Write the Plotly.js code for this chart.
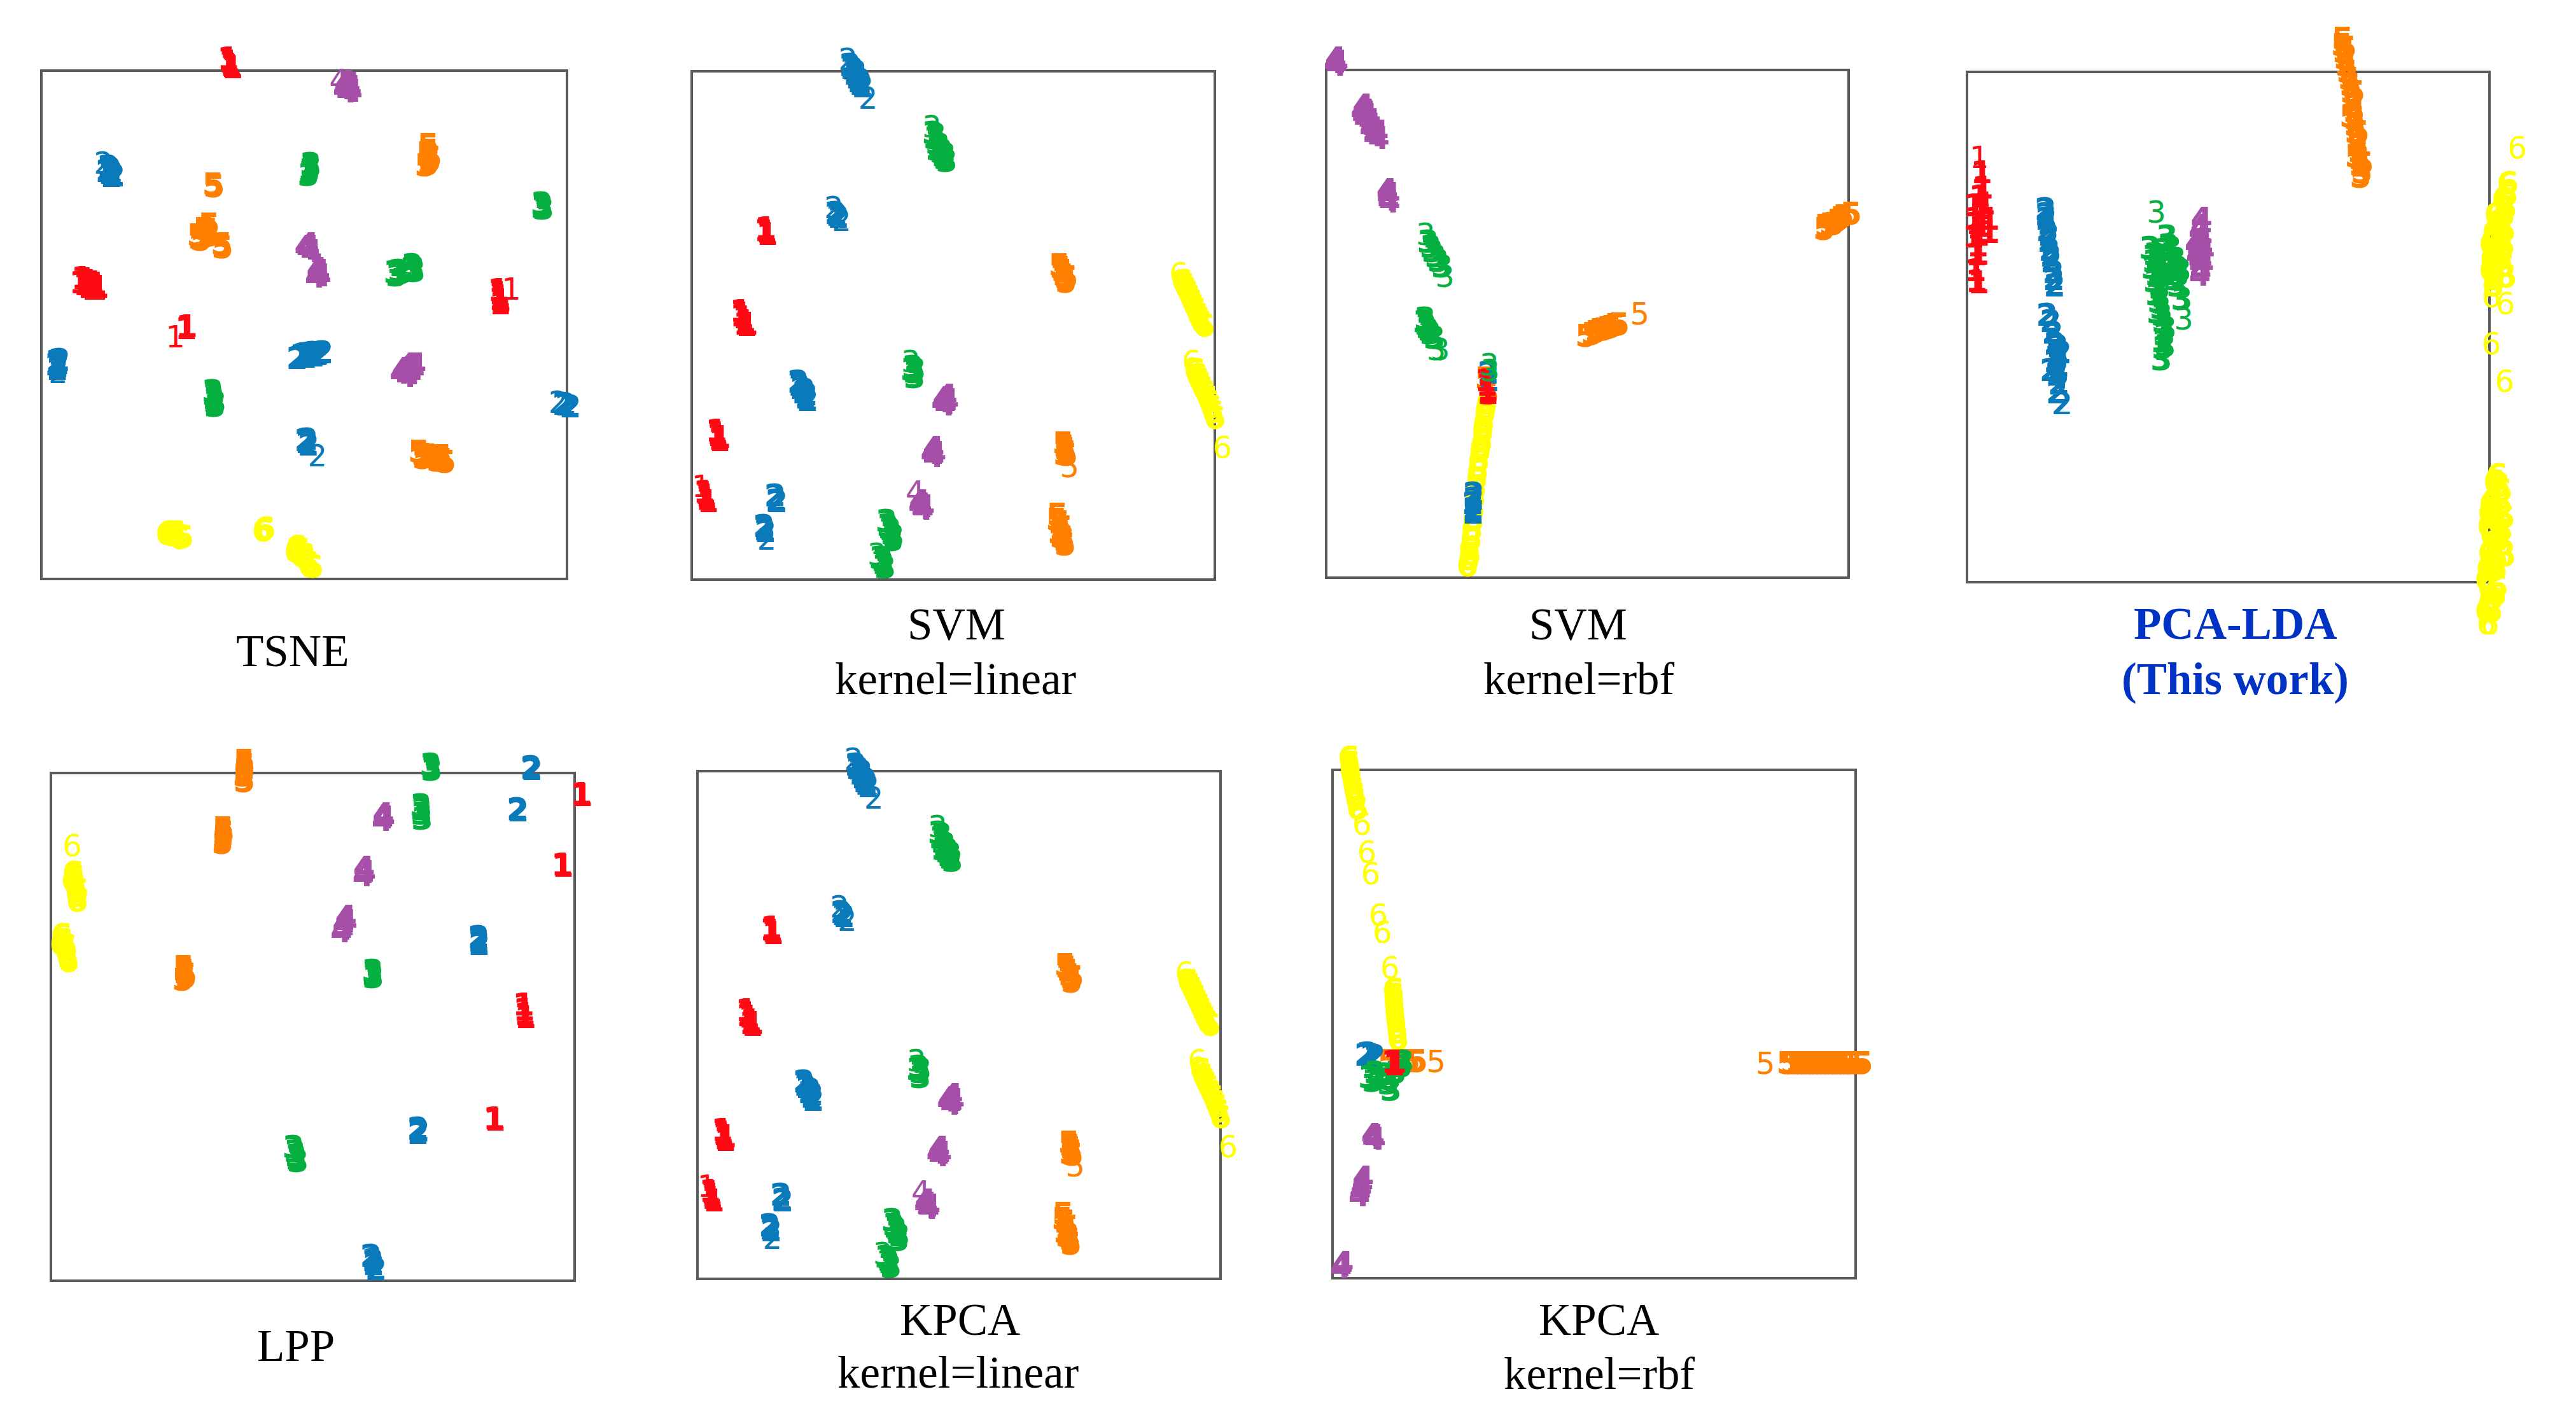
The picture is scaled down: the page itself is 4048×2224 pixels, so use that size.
<!DOCTYPE html>
<html><head><meta charset="utf-8">
<script src="https://cdn.plot.ly/plotly-3.0.1.min.js"></script>
<style>html,body{margin:0;padding:0;background:#fff}#c{width:4048px;height:2224px}</style>
</head><body><div id="c"></div>
<script>
const classLabels = ["1","2","3","4","5","6"];
const classColors = ["#FF0A14","#0A7ABA","#06B040","#A64FA8","#FF8000","#FFFF00"];

// t-SNE
const tsne1 = [[460,1168],[463,1160],[466,1153],[468,1150],[470,1148],[95,665],[100,675],[110,672],[118,668],[128,665],[135,662],[140,655],[105,660],[115,655],[125,650],[135,650],[112,665],[122,660],[1126,648],[1128,640],[1130,633],[1131,625],[1130,618],[1128,628],[358,566],[356,562]];
const tsne2 = [[170,920],[173,903],[168,910],[175,912],[172,918],[165,925],[160,915],[180,905],[38,488],[43,483],[41,478],[36,480],[45,490],[40,470],[630,495],[648,503],[660,500],[668,506],[680,504],[693,508],[653,498],[683,505],[640,500],[672,500],[1285,392],[1292,390],[1303,386],[653,306],[658,300],[650,310],[655,312]];
const tsne3 = [[663,930],[661,918],[658,906],[664,924],[660,912],[1235,838],[1233,833],[1237,830],[1232,842],[880,690],[870,688],[883,685],[875,680],[888,686],[913,703],[918,698],[910,695],[920,690],[423,413],[426,398],[428,388],[425,405],[430,395],[422,420]];
const tsne4 = [[748,1108],[756,1098],[763,1103],[753,1093],[745,1100],[760,1110],[750,1115],[765,1095],[660,745],[655,740],[665,735],[650,745],[658,750],[683,686],[678,680],[676,678],[685,690],[680,695],[688,680],[898,473],[913,478],[908,468],[898,463],[905,480],[890,470],[918,470],[900,455],[910,460],[885,462],[922,480]];
const tsne5 = [[423,884],[425,881],[953,973],[953,960],[953,948],[955,940],[953,930],[946,928],[958,938],[950,955],[960,945],[413,795],[400,785],[388,763],[403,768],[410,783],[393,760],[385,770],[415,770],[446,743],[444,750],[938,278],[950,276],[958,273],[970,270],[983,268],[988,266],[948,276],[975,265],[940,270],[985,275],[930,285],[995,262]];
const tsne6 = [[308,100],[318,98],[323,98],[335,95],[343,93],[348,94],[312,103],[330,103],[340,90],[548,110],[546,108],[550,112],[628,70],[633,58],[640,50],[650,43],[658,35],[668,26],[625,60],[636,65],[648,52],[660,28]];
const tsneStray = [[1,1158,650],[1,330,543],[2,153,933],[2,41,462],[2,1273,396],[2,680,276],[4,733,1118]];

// SVM kernel=linear and KPCA kernel=linear
const linear1 = [[192,913],[194,905],[196,898],[190,908],[127,698],[130,690],[134,681],[139,671],[142,661],[128,685],[136,665],[145,665],[64,387],[67,375],[70,365],[72,361],[66,380],[74,370],[32,228],[37,218],[42,203],[38,210],[35,225]];
const linear2 = [[412,1338],[420,1328],[424,1315],[430,1305],[434,1295],[439,1288],[445,1281],[415,1330],[428,1320],[437,1300],[442,1292],[374,953],[382,943],[378,948],[277,513],[284,498],[290,485],[297,473],[302,465],[280,505],[294,492],[300,480],[217,218],[220,205],[222,203],[188,138],[192,125],[190,130]];
const linear3 = [[628,1161],[632,1148],[637,1135],[642,1123],[648,1111],[654,1101],[664,1088],[658,1095],[635,1155],[645,1130],[652,1115],[660,1105],[638,1118],[575,551],[579,538],[580,525],[572,545],[582,545],[507,151],[514,133],[520,118],[524,101],[510,140],[518,128],[526,112],[497,48],[504,31],[500,40],[490,55]];
const linear4 = [[664,478],[657,465],[660,455],[652,463],[662,457],[668,465],[655,470],[630,341],[624,328],[630,320],[628,335],[635,328],[594,203],[600,185],[602,183],[598,195],[605,190],[592,195]];
const linear5 = [[957,816],[964,801],[972,783],[974,773],[960,810],[968,790],[978,785],[967,353],[972,338],[977,323],[970,345],[975,330],[969,325],[952,168],[957,148],[960,128],[967,108],[972,90],[950,155],[965,135],[955,120],[970,100],[960,110]];
const linear6 = [[1277,775],[1287,755],[1297,733],[1307,711],[1317,688],[1327,668],[1334,660],[1282,765],[1292,745],[1302,722],[1312,700],[1322,678],[1310,543],[1320,518],[1330,498],[1342,473],[1352,448],[1362,420],[1315,530],[1325,508],[1336,485],[1347,460],[1357,435]];
const linearStray = [[1,25,241],[2,407,1351],[2,459,1251],[2,370,967],[2,390,933],[2,195,105],[3,625,1176],[3,570,566],[3,482,65],[4,582,226],[5,984,293],[6,1269,795],[6,1302,566],[6,1382,343]];

// SVM kernel=rbf
const svmRbf1 = [[415,513],[420,488],[420,480],[418,500]];
const svmRbf2 = [[422,533],[424,513],[384,218],[382,193],[383,178],[383,168],[384,205]];
const svmRbf3 = [[265,873],[272,860],[277,848],[285,835],[292,823],[302,808],[257,673],[259,658],[267,643],[282,623],[262,650],[254,665],[272,635]];
const svmRbf4 = [[25,1350],[27,1333],[22,1340],[30,1342],[97,1228],[102,1215],[107,1203],[112,1190],[117,1178],[123,1168],[129,1158],[137,1143],[105,1195],[115,1170],[92,1215],[105,1210],[95,1205],[115,1190],[125,1150],[135,1160],[100,1195],[159,1008],[162,983],[165,978],[160,995],[165,998]];
const svmRbf5 = [[677,628],[692,633],[712,643],[732,648],[752,656],[762,658],[702,638],[722,645],[742,652],[1297,906],[1312,918],[1332,928],[1347,940],[1367,946],[1322,920],[1340,934],[1300,915],[415,518],[422,478]];
const svmRbf6 = [[417,453],[413,428],[410,403],[407,378],[405,353],[400,328],[397,303],[394,278],[392,258],[389,233],[387,208],[385,178],[382,148],[379,123],[377,98],[373,73],[371,48],[368,30],[415,440],[408,390],[402,340],[375,60]];
const svmRbfStray = [[3,259,893],[3,309,783],[3,297,593],[3,287,593],[3,425,553],[3,427,538],[5,817,686]];

// PCA-LDA
const lda1 = [[34,920],[37,885],[17,845],[42,850],[52,815],[17,815],[52,785],[15,775],[22,735],[27,737],[20,700],[22,675],[27,673],[22,805],[32,840],[30,865],[28,780],[25,755],[35,800]];
const lda2 = [[185,837],[187,815],[189,790],[192,765],[195,745],[199,720],[204,695],[207,665],[189,600],[197,585],[202,560],[207,535],[212,515],[207,495],[217,485],[212,465],[217,445],[212,425],[222,515],[197,475],[186,825],[193,780],[198,732],[205,680],[214,530],[210,505],[215,475]];
const lda3 = [[472,775],[482,750],[492,725],[497,705],[442,735],[437,705],[442,675],[447,645],[457,615],[462,585],[465,555],[462,525],[459,500],[467,745],[457,715],[497,665],[507,635],[477,705],[457,685],[432,750],[485,715],[450,730],[447,690],[470,690],[455,660],[500,690],[452,630],[460,600],[462,540],[475,755],[505,700],[440,720],[490,680],[450,605],[470,570],[468,530]];
const lda4 = [[554,815],[549,790],[547,765],[550,740],[550,715],[550,690],[553,800],[555,775],[545,750],[556,755],[548,725],[554,725],[552,700],[540,760],[560,745],[543,735],[558,715]];
const lda5 = [[887,1220],[889,1190],[895,1160],[902,1130],[907,1100],[912,1070],[915,1040],[917,1010],[922,980],[927,950],[929,910],[932,920],[885,1205],[892,1175],[898,1145],[905,1115],[910,1085],[914,1055],[916,1025],[920,995],[925,965],[928,935],[895,1200],[915,1100],[905,1045],[925,1010],[918,955],[935,940]];
const lda6 = [[1277,895],[1275,870],[1272,840],[1262,815],[1247,825],[1242,785],[1262,775],[1247,750],[1237,725],[1262,725],[1247,695],[1242,665],[1272,685],[1260,800],[1255,760],[1250,720],[1265,860],[1268,825],[1250,800],[1270,790],[1235,760],[1268,755],[1235,700],[1268,710],[1245,680],[1252,240],[1257,215],[1242,185],[1262,175],[1232,155],[1252,135],[1262,115],[1237,105],[1267,85],[1232,65],[1252,55],[1242,25],[1232,-15],[1252,-10],[1232,-45],[1239,-65],[1247,155],[1245,90],[1240,45],[1245,225],[1262,205],[1235,175],[1268,145],[1230,125],[1255,95],[1270,60],[1228,30],[1250,30],[1225,5],[1248,-30],[1225,-65],[1240,-40]];
const ldaStray = [[1,29,953],[2,222,400],[2,227,400],[3,447,830],[3,512,590],[6,1300,975],[6,1239,640],[6,1272,625],[6,1239,535],[6,1270,450],[6,1227,-95],[6,1235,-95]];

// LPP
const lpp1 = [[1380,1266],[1382,1262],[1330,1081],[1332,1078],[1230,717],[1233,693],[1235,685],[1231,705],[1153,421],[1155,418]];
const lpp2 = [[1250,1333],[1250,1335],[1252,1330],[1214,1225],[1216,1222],[1113,893],[1115,875],[1114,884],[955,395],[956,383],[958,390],[833,63],[840,43],[846,29],[838,52]];
const lpp3 = [[988,1341],[991,1328],[990,1335],[963,1235],[965,1215],[966,1201],[964,1225],[837,805],[839,788],[838,796],[631,346],[638,323],[643,310],[635,335],[640,316]];
const lpp4 = [[865,1213],[863,1198],[868,1205],[815,1073],[813,1053],[818,1062],[768,946],[761,928],[756,908],[770,935],[760,915]];
const lpp5 = [[503,1351],[503,1328],[501,1313],[503,1298],[504,1340],[502,1320],[448,1176],[448,1158],[446,1138],[450,1165],[447,1148],[345,815],[348,798],[351,788],[343,783],[347,805],[352,795]];
const lpp6 = [[58,1061],[61,1038],[65,1013],[68,988],[60,1050],[63,1025],[67,1000],[55,1040],[70,1015],[28,898],[33,873],[41,848],[45,831],[30,885],[37,860],[43,840],[25,875],[40,870]];
const lppStray = [[6,56,1131]];

// KPCA kernel=rbf
const kpcaRbf1 = [[155,510],[165,510],[160,505]];
const kpcaRbf2 = [[85,528],[100,528],[110,525],[92,530]];
const kpcaRbf3 = [[95,475],[120,470],[145,460],[152,445],[165,485],[185,510],[180,500],[105,465],[135,480],[150,470],[110,485]];
const kpcaRbf4 = [[108,335],[105,330],[111,328],[103,338],[80,237],[75,215],[70,195],[78,225],[72,205],[25,30],[27,35],[22,25]];
const kpcaRbf5 = [[145,513],[170,513],[200,513],[220,513],[1185,507],[1195,507],[1210,507],[1220,507],[1230,507],[1240,507],[1250,507],[1260,507],[1270,507],[1280,507],[1290,507],[1300,507],[1310,507],[1320,507],[1330,507],[1340,507],[1350,507],[1365,507],[1380,507]];
const kpcaRbf6 = [[42,1230],[45,1205],[50,1180],[55,1155],[60,1130],[65,1110],[44,1218],[47,1192],[52,1168],[58,1142],[158,680],[160,655],[162,630],[165,605],[168,580],[170,565],[159,668],[161,642],[163,618],[167,592]];
const kpcaRbfStray = [[5,270,512],[5,1128,507],[6,77,1073],[6,90,1007],[6,100,955],[6,120,857],[6,130,817],[6,150,733]];

const panels = [
  {series:[tsne1,tsne2,tsne3,tsne4,tsne5,tsne6], stray:tsneStray, box:[65,111,891,910], range:[1295,1141], order:[5,3,4,2,1,0]},
  {series:[linear1,linear2,linear3,linear4,linear5,linear6], stray:linearStray, box:[1087,112,1909,911], range:[1362,1322], order:[0,1,2,3,4,5]},
  {series:[svmRbf1,svmRbf2,svmRbf3,svmRbf4,svmRbf5,svmRbf6], stray:svmRbfStray, box:[2084,110,2905,908], range:[1361,1321], order:[5,3,4,1,2,0]},
  {series:[lda1,lda2,lda3,lda4,lda5,lda6], stray:ldaStray, box:[3091,113,3912,915], range:[1234,1146], order:[0,1,2,3,4,5]},
  {series:[lpp1,lpp2,lpp3,lpp4,lpp5,lpp6], stray:lppStray, box:[80,1215,903,2013], range:[1363,1321], order:[0,1,2,3,4,5]},
  {series:[linear1,linear2,linear3,linear4,linear5,linear6], stray:linearStray, box:[1096,1212,1918,2010], range:[1362,1322], order:[0,1,2,3,4,5]},
  {series:[kpcaRbf1,kpcaRbf2,kpcaRbf3,kpcaRbf4,kpcaRbf5,kpcaRbf6], stray:kpcaRbfStray, box:[2094,1210,2916,2009], range:[1363,1202], order:[5,3,4,1,2,0]}
];

const captions = [
  ["TSNE",460,1023,"#000",false],
  ["SVM",1503,981,"#000",false],["kernel=linear",1501,1067,"#000",false],
  ["SVM",2480,981,"#000",false],["kernel=rbf",2481,1067,"#000",false],
  ["PCA-LDA",3512,980,"#0033C4",true],["(This work)",3512,1067,"#0033C4",true],
  ["LPP",465,2115,"#000",false],
  ["KPCA",1508,2074,"#000",false],["kernel=linear",1505,2157,"#000",false],
  ["KPCA",2512,2074,"#000",false],["kernel=rbf",2513,2159,"#000",false]
];

const W = 4048, H = 2224;
const pad = {l:60, r:125, t:105, b:105};
const markDrop = 4;            // digits sit this far below the frame's own scale
const traces = [];
const shapes = [];
const layout = {
  width:W, height:H, autosize:false, showlegend:false, hovermode:false,
  margin:{l:0,r:0,t:0,b:0,pad:0}, paper_bgcolor:"#fff", plot_bgcolor:"rgba(0,0,0,0)",
  shapes,
  annotations: captions.map(c => ({
    text: c[4] ? "<b>"+c[0]+"</b>" : c[0], x:c[1]/W, y:1-c[2]/H, xref:"paper", yref:"paper",
    xanchor:"center", yanchor:"middle", showarrow:false,
    font:{family:"Liberation Serif", size:71, color:c[3]}
  }))
};
panels.forEach((p,i) => {
  const n = i===0 ? "" : String(i+1);
  const [x0,y0,x1,y1] = p.box;
  const ux = p.range[0]/(x1-x0), uy = p.range[1]/(y1-y0);
  const axis = {visible:false, showgrid:false, zeroline:false, fixedrange:true};
  const dy = markDrop*uy;
  layout["xaxis"+n] = Object.assign({}, axis, {domain:[(x0-pad.l)/W,(x1+pad.r)/W], range:[-pad.l*ux,p.range[0]+pad.r*ux], anchor:"y"+n});
  layout["yaxis"+n] = Object.assign({}, axis, {domain:[1-(y1+pad.b)/H,1-(y0-pad.t)/H], range:[-pad.b*uy+dy,p.range[1]+pad.t*uy+dy], anchor:"x"+n});
  shapes.push({type:"rect", xref:"x"+n, yref:"y"+n, x0:0, y0:dy, x1:p.range[0], y1:p.range[1]+dy, layer:"below",
               line:{color:"#5A5A5A", width:4}, fillcolor:"rgba(0,0,0,0)"});
  p.order.forEach(k => {
    const pts = p.series[k];
    traces.push({type:"scatter", mode:"text", xaxis:"x"+n, yaxis:"y"+n,
      x:pts.map(q=>q[0]), y:pts.map(q=>q[1]), text:pts.map(()=>classLabels[k]),
      textposition:"middle center", cliponaxis:false, hoverinfo:"skip",
      textfont:{family:"DejaVu Sans", weight:"bold", size:50, color:classColors[k]}});
  });
  traces.push({type:"scatter", mode:"text", xaxis:"x"+n, yaxis:"y"+n,
    x:p.stray.map(q=>q[1]), y:p.stray.map(q=>q[2]), text:p.stray.map(q=>classLabels[q[0]-1]),
    textposition:"middle center", cliponaxis:false, hoverinfo:"skip",
    textfont:{family:"DejaVu Sans", size:48, color:p.stray.map(q=>classColors[q[0]-1])}});
});
Plotly.newPlot("c", traces, layout, {displayModeBar:false, staticPlot:true});
</script></body></html>
